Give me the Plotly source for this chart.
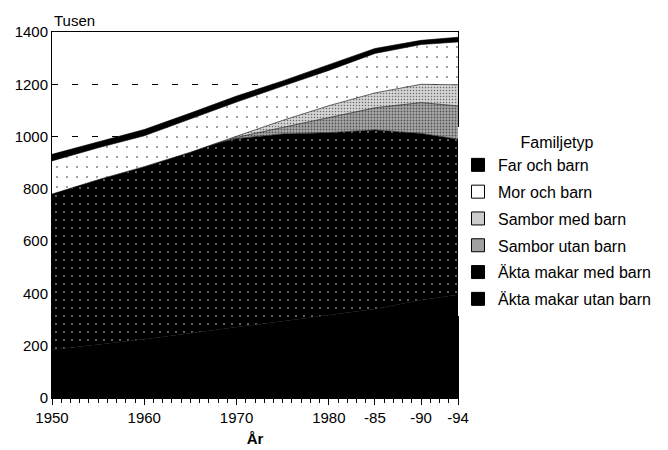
import plotly.graph_objects as go

# years with readings
YEARS = [1950, 1955, 1960, 1965, 1968, 1970, 1975, 1980, 1985, 1990, 1994]

# cumulative tops (thousands), then turned into layers
AKTA_UTAN_TOP = [185, 205, 225, 248, 262, 272, 295, 318, 340, 375, 395]
AKTA_MED_TOP = [780, 835, 885, 940, 975, 992, 1010, 1015, 1025, 1012, 990]
SAMBOR_UTAN_TOP = [780, 835, 885, 940, 976, 997, 1035, 1072, 1110, 1130, 1117]
SAMBOR_MED_TOP = [780, 835, 885, 940, 977, 1002, 1062, 1118, 1167, 1200, 1198]
MOR_TOP = [907, 957, 1003, 1067, 1107, 1132, 1193, 1253, 1318, 1352, 1362]
TOTAL = [932, 980, 1027, 1090, 1130, 1155, 1213, 1275, 1337, 1368, 1380]

X_TICKS = [1950, 1960, 1970, 1980, 1985, 1990, 1994]
X_TICK_TEXT = ["1950", "1960", "1970", "1980", "-85", "-90", "-94"]
Y_TICKS = [0, 200, 400, 600, 800, 1000, 1200, 1400]


def diff(top, below):
    return [a - b for a, b in zip(top, below)]


def dots(fg, bg, size, solidity):
    return dict(shape=".", fgcolor=fg, bgcolor=bg, size=size,
                solidity=solidity, fillmode="overlay")


# name, layer values, fill style, legend swatch colour
layers = [
    ("Äkta makar utan barn", AKTA_UTAN_TOP,
     dict(fillcolor="#000000"), "#000000"),
    ("Äkta makar med barn", diff(AKTA_MED_TOP, AKTA_UTAN_TOP),
     dict(fillcolor="#000000", fillpattern=dots("#ffffff", "#000000", 8, 0.05)),
     "#000000"),
    ("Sambor utan barn", diff(SAMBOR_UTAN_TOP, AKTA_MED_TOP),
     dict(fillcolor="#a8a8a8", fillpattern=dots("#000000", "#a8a8a8", 3, 0.3)),
     "#a0a0a0"),
    ("Sambor med barn", diff(SAMBOR_MED_TOP, SAMBOR_UTAN_TOP),
     dict(fillcolor="#d4d4d4", fillpattern=dots("#000000", "#d4d4d4", 3, 0.2)),
     "#cccccc"),
    ("Mor och barn", diff(MOR_TOP, SAMBOR_MED_TOP),
     dict(fillcolor="#ffffff", fillpattern=dots("#000000", "#ffffff", 10, 0.03)),
     "#ffffff"),
    ("Far och barn", diff(TOTAL, MOR_TOP),
     dict(fillcolor="#000000"), "#000000"),
]

fig = go.Figure()
for name, vals, style, _ in layers:
    fig.add_trace(go.Scatter(x=YEARS, y=vals, name=name,
                             stackgroup="one", mode="lines",
                             showlegend=False,
                             line=dict(color="#000000", width=0.6),
                             **style))

# legend swatches: square boxes as in the original key
for name, _, _, swatch in reversed(layers):
    fig.add_trace(go.Scatter(x=[None], y=[None], name=name, mode="markers",
                             legendgroup=name,
                             marker=dict(symbol="square", size=13, color=swatch,
                                         line=dict(color="#000000", width=1))))

fig.update_layout(
    width=660, height=442,
    margin=dict(l=44, r=207, t=24, b=52),
    paper_bgcolor="#ffffff", plot_bgcolor="#ffffff",
    font=dict(family="Liberation Sans, Arial, sans-serif", size=15, color="#000000"),
    showlegend=True,
    legend=dict(title=dict(text="Familjetyp", side="top center",
                           font=dict(size=16)),
                tracegroupgap=3,
                x=1.0, xanchor="left", y=0.74, yanchor="top",
                itemwidth=30, font=dict(size=16)),
    xaxis=dict(range=[1950, 1994], tickvals=X_TICKS, ticktext=X_TICK_TEXT,
               automargin=False,
               ticks="outside", ticklen=6, tickcolor="#000000",
               minor=dict(dtick=1, tick0=1950, ticks="outside", ticklen=4,
                          tickcolor="#000000"),
               showline=True, linecolor="#000000", linewidth=1, mirror=True,
               showgrid=False, zeroline=False,
               title=dict(text="<b>År</b>", standoff=8, font=dict(size=15))),
    yaxis=dict(range=[0, 1400], tickvals=Y_TICKS, ticks="",
               automargin=False,
               showline=True, linecolor="#000000", linewidth=1, mirror=True,
               showgrid=True, gridcolor="#000000", griddash="6px,14px",
               gridwidth=1, zeroline=False),
    annotations=[dict(text="Tusen", x=0, y=1.0, xref="paper", yref="paper",
                      xanchor="left", yanchor="bottom", showarrow=False,
                      yshift=1, font=dict(size=15))],
)

fig.write_html("out.html")
